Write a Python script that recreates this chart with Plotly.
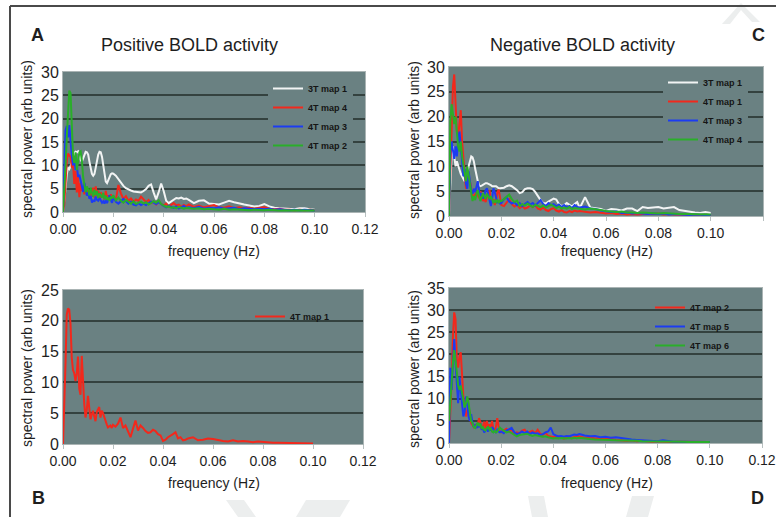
import numpy as np
import plotly.graph_objects as go

# frequency grid (Hz): 0-0.0195 step 0.0005, 0.020-0.049 step 0.001, 0.050-0.100 step 0.002
FREQ = np.round(np.concatenate([np.arange(40) * 0.0005,
                                0.020 + np.arange(30) * 0.001,
                                0.050 + np.arange(26) * 0.002]), 4)

# ---- Panel A: Positive BOLD activity ----
A_3T_MAP1 = [0, 2, 5, 8, 9.5, 9.2, 9.8, 10.8, 11.8, 12.6, 12.9, 12.8, 13, 12.4, 11.2, 10.8, 11.5, 12.5, 12.9, 12.8,
             12.3, 10.8, 9.2, 8.2, 7.8, 8.2, 9.5, 11, 12.3, 12.9, 12.8, 11.8, 9.8, 7.8, 6.5, 6.2, 6.8, 7.6, 8.1, 8.3,
             8.2, 7.8, 7, 6.2, 5.6, 5.1, 4.8, 4.6, 4.4, 4.3, 4.3, 4.2, 4.5, 4.9, 5.6, 5.9, 4.2, 2.7, 4.2, 6.1,
             4.5, 2.4, 1.9, 2.3, 2.8, 3, 2.9, 3.1, 2.8, 2.9,
             2.6, 1.9, 2.4, 2.5, 1.8, 1.7, 1.6, 2.0, 2.4, 2.1, 1.8, 1.6, 1.4, 1.2, 1.3, 1.7, 1.2, 0.9, 0.8, 0.7,
             0.6, 0.6, 0.8, 0.8, 0.6, 0.5]
A_4T_MAP4 = [0, 1.5, 6, 11, 12.5, 12, 11.8, 9.5, 10.2, 6, 8.8, 4.2, 7.5, 3.2, 6.2, 4.5, 5.5, 3.8, 5.2, 4,
             4.8, 3.5, 4.2, 3.3, 5.2, 3.1, 5.5, 3.4, 4.6, 2.8, 4.2, 3.3, 3.8, 2.7, 4.5, 2.9, 3.6, 2.5, 3.8, 2.8,
             3.2, 2.6, 5.8, 4, 2.8, 3.4, 2.4, 2.9, 2.2, 2.7, 2.4, 3.3, 2.6, 2.1, 2.6, 1.9, 2.2, 1.6, 2.3, 1.7,
             1.4, 1.8, 1.2, 1.5, 1.9, 1.4, 1.6, 1.1, 1.5, 1.2,
             1.6, 1.1, 1.4, 1.0, 1.3, 1.5, 1.0, 0.9, 1.2, 0.8, 1.0, 0.8, 0.9, 0.7, 0.9, 1.0, 0.7, 0.6, 0.7, 0.5,
             0.5, 0.4, 0.5, 0.4, 0.5, 0.4]
A_4T_MAP3 = [0, 10, 17.5, 18.4, 16, 18.6, 14.5, 12, 10, 11.5, 9, 10, 7.5, 8, 6.8, 5.5, 4.3, 6.2, 5, 3.5,
             4.2, 2.8, 3.5, 2, 2.6, 2.2, 3.3, 2.6, 2.4, 3, 2.5, 2, 2.3, 1.8, 2.6, 1.9, 2.8, 3.6, 2.5, 2,
             3.2, 2.2, 1.8, 2.4, 2.8, 2.3, 1.8, 2.2, 1.6, 1.4, 1.9, 1.5, 1.8, 1.5, 1.9, 2.2, 2.0, 1.7, 2.1, 1.6,
             1.3, 1.0, 1.3, 1.1, 0.9, 1.2, 0.8, 1.0, 1.3, 0.9,
             1.0, 0.8, 1.1, 0.7, 0.9, 0.8, 1.0, 0.7, 0.8, 0.9, 0.6, 0.8, 0.7, 0.6, 0.7, 0.6, 0.7, 0.5, 0.6, 0.5,
             0.4, 0.5, 0.4, 0.5, 0.4, 0.3]
A_4T_MAP2 = [0, 4, 10, 16, 23, 26, 25.5, 18, 12, 10.5, 12.8, 9, 11, 12.8, 13, 11, 7.5, 5.5, 4.2, 5.5,
             4.8, 3.5, 5.2, 4.2, 3.3, 4.8, 3.6, 4.5, 3, 4, 3.5, 3.1, 4.1, 2.8, 3.5, 2.6, 3.1, 2.4, 3.3, 2.9,
             3.6, 2.5, 3.1, 2.4, 2.0, 2.6, 2.2, 1.8, 2.3, 1.7, 2.0, 2.2, 1.8, 2.1, 1.6, 1.9, 2.3, 2.0, 2.5, 1.7,
             1.3, 1.1, 1.2, 0.9, 1.0, 0.8, 1.1, 0.9, 0.7, 0.9,
             0.8, 0.7, 0.8, 0.6, 0.7, 0.6, 0.5, 0.7, 0.5, 0.6, 0.5, 0.5, 0.4, 0.5, 0.4, 0.4, 0.5, 0.4, 0.3, 0.4,
             0.3, 0.4, 0.3, 0.3, 0.3, 0.3]

# ---- Panel B ----
B_4T_MAP1 = [0, 9, 13, 21, 22, 21.8, 19.5, 14, 12, 11.5, 10.2, 11.5, 14.2, 9, 8, 14.3, 9.5, 6.5, 4.3, 5.5,
             7.8, 6, 4, 4.8, 5.4, 4.5, 3.7, 5.2, 5.6, 6, 4.3, 5.4, 5, 4.3, 3.8, 3.2, 2.7, 2.8, 3, 2.6,
             3.1, 2.8, 3.3, 4.3, 2.6, 3.0, 2.0, 1.1, 2.5, 3.8, 2.2, 3.0, 2.6, 2.1, 1.8, 1.9, 2.3, 2.1, 1.6, 1.4,
             0.5, 0.7, 1.1, 1.3, 1.6, 1.9, 0.9, 1.1, 0.6, 0.7,
             0.9, 1.1, 0.6, 0.7, 0.9, 0.8, 0.6, 0.5, 0.4, 0.6, 0.4, 0.5, 0.4, 0.3, 0.4, 0.3, 0.3, 0.2, 0.2, 0.2,
             0.2, 0.1, 0.2, 0.1, 0.1, 0.1]

# ---- Panel C: Negative BOLD activity ----
C_3T_MAP1 = [0, 5, 12, 14, 12, 10, 11, 10, 9, 8.5, 8, 7.5, 7, 8, 9, 10.5, 11.5, 12, 11.8, 11,
             9.5, 8, 7, 6.2, 6, 6.1, 6.3, 6.5, 6.6, 6.6, 6.5, 6.3, 6.2, 6, 6, 6.1, 6, 5.8, 5.6, 5.6,
             5.6, 5.7, 6.0, 6.2, 6.0, 5.6, 5.2, 4.6, 4.8, 5.4, 5.6, 5.6, 5.4, 4.8, 3.9, 3.2, 2.6, 2.5, 2.9, 3.2,
             3.5, 3.3, 2.4, 2.0, 2.2, 2.6, 2.3, 1.9, 2.4, 2.8,
             1.6, 3.8, 1.7, 1.6, 1.4, 1.0, 1.4, 1.3, 1.1, 1.5, 1.5, 1.0, 1.8, 1.6, 1.7, 1.8, 1.5, 1.6, 1.8, 1.2,
             1.0, 0.8, 0.7, 0.6, 0.8, 0.6]
C_4T_MAP1 = [0, 8, 18, 26, 28.5, 24, 17, 16, 19, 21.3, 15, 11, 8.5, 5.5, 6.5, 8, 7, 5.2, 4.2, 3.8,
             4.4, 5, 4.2, 3.6, 5, 4, 3, 3.6, 2.8, 3.8, 4.6, 5.2, 3.2, 2.6, 3.4, 2.2, 3.2, 4.8, 5.3, 3.4,
             2.2, 2.0, 2.8, 3.4, 2.4, 1.9, 2.3, 1.6, 2.0, 1.5, 1.7, 2.1, 1.8, 2.2, 1.5, 1.3, 1.7, 1.2, 1.0, 1.4,
             1.6, 1.1, 0.9, 1.2, 0.8, 0.7, 1.0, 0.8, 1.1, 0.9,
             1.0, 0.9, 0.7, 0.8, 0.6, 0.5, 0.6, 0.4, 0.5, 0.3, 0.4, 0.3, 0.4, 0.5, 0.4, 0.5, 0.3, 0.4, 0.3, 0.3,
             0.3, 0.2, 0.2, 0.2, 0.2, 0.2]
C_4T_MAP3 = [0, 12.6, 15, 13, 11.5, 14, 12, 15.2, 17, 14, 10.2, 8, 9.5, 6.5, 5.5, 9, 7, 5, 4.5, 5.5,
             4.8, 6.2, 7, 5, 4, 4.6, 3.5, 4.2, 5.2, 5.6, 4.2, 3, 2, 3.6, 5.6, 4.8, 3.4, 2.6, 3.1, 2.5,
             2.6, 3.4, 3.8, 2.9, 2.5, 2.8, 2.2, 2.6, 2.0, 2.4, 2.8, 2.3, 2.6, 2.1, 2.7, 3.2, 2.4, 2.0, 2.6, 2.2,
             2.4, 1.9, 2.3, 1.8, 2.2, 1.7, 2.0, 1.6, 2.2, 1.8,
             1.7, 1.9, 1.5, 1.4, 1.1, 1.0, 0.8, 0.9, 0.6, 0.7, 0.5, 0.6, 0.5, 0.4, 0.5, 0.4, 0.5, 0.3, 0.4, 0.3,
             0.3, 0.2, 0.3, 0.2, 0.2, 0.2]
C_4T_MAP4 = [0, 19, 22.5, 20, 18.5, 20, 17, 14, 13, 15, 12, 10.5, 9, 7, 10, 8, 6, 4, 3, 4,
             3.2, 4.5, 5.2, 4, 3, 3.8, 4.6, 4, 3.4, 4.5, 3.8, 3.4, 4, 3.2, 2.6, 3.2, 2.8, 3.3, 2.6, 3.1,
             3.0, 3.4, 3.8, 4.3, 3.4, 2.8, 3.1, 2.0, 2.4, 2.1, 2.5, 2.2, 1.8, 2.3, 2.0, 1.8, 2.1, 1.7, 2.0, 2.3,
             2.0, 1.6, 1.9, 1.5, 1.7, 1.5, 1.8, 1.4, 1.6, 1.5,
             1.5, 1.3, 1.5, 1.4, 1.2, 1.0, 0.9, 0.8, 0.9, 0.7, 0.7, 0.6, 0.7, 0.6, 0.6, 0.5, 0.6, 0.5, 0.5, 0.4,
             0.4, 0.4, 0.3, 0.3, 0.3, 0.3]

# ---- Panel D ----
D_4T_MAP2 = [0, 6, 14, 24, 29.5, 28, 19, 17, 19.5, 20.5, 14, 10.5, 9, 6, 7, 8.5, 6, 4.5, 4, 3.6,
             4.2, 3.5, 4, 5.6, 4.8, 3.5, 3.8, 4.8, 3.2, 5, 3.6, 4.2, 3.4, 5, 3.2, 2.8, 3.6, 5.6, 3.8, 2.6,
             2.4, 2.8, 3.2, 2.6, 3.0, 2.0, 2.4, 2.2, 2.8, 3.0, 2.2, 2.5, 2.8, 2.2, 3.0, 2.1, 1.8, 2.3, 1.6, 1.5,
             1.3, 1.6, 1.2, 1.4, 1.0, 1.2, 1.5, 1.1, 1.4, 1.6,
             1.5, 1.2, 1.3, 1.0, 1.1, 0.9, 1.0, 0.7, 0.6, 0.5, 0.6, 0.4, 0.5, 0.4, 0.3, 0.4, 0.3, 0.3, 0.2, 0.3,
             0.3, 0.2, 0.2, 0.2, 0.2, 0.2]
D_4T_MAP5 = [0, 17, 12, 19, 23.5, 18, 12, 9, 15, 12, 8, 6, 7, 10.5, 9, 6, 5, 6.5, 4.5, 3.6,
             4, 3.4, 4, 3.6, 4.4, 3, 3.4, 2.4, 2.8, 3.2, 2.6, 3.4, 2.8, 3.6, 3.2, 2.6, 2.4, 3, 2.6, 2.4,
             2.6, 2.2, 2.8, 3.2, 3.4, 2.4, 2.0, 2.2, 2.6, 2.2, 2.6, 2.0, 2.4, 2.1, 2.2, 1.8, 2.0, 2.4, 2.6, 3.5,
             2.0, 1.7, 1.5, 1.6, 1.4, 1.6, 1.5, 1.7, 1.9, 1.8,
             2.0, 1.7, 1.5, 1.6, 1.3, 1.4, 1.2, 1.3, 1.1, 1.0, 0.8, 0.7, 0.6, 0.5, 0.5, 0.4, 0.6, 0.4, 0.3, 0.3,
             0.3, 0.3, 0.3, 0.2, 0.2, 0.2]
D_4T_MAP6 = [5, 10, 15, 18, 21, 19, 16, 13, 12, 13, 11, 9, 8, 9, 10.5, 9, 6.5, 5, 4.5, 3.6,
             3.4, 4, 4.6, 3.8, 4.4, 3.2, 3.6, 3, 2.8, 3.4, 3.6, 3, 3.4, 2.6, 2.4, 2.8, 2.4, 2.6, 3.2, 3.5,
             3.2, 2.8, 2.4, 2.6, 2.2, 1.8, 1.5, 1.8, 1.9, 2.0, 2.1, 1.8, 1.6, 1.8, 1.6, 1.5, 1.4, 1.5, 1.3, 1.2,
             1.0, 1.1, 1.0, 1.1, 1.0, 1.0, 1.1, 1.0, 1.2, 1.1,
             1.2, 1.0, 0.9, 0.8, 0.8, 0.7, 0.7, 0.6, 0.6, 0.5, 0.5, 0.5, 0.4, 0.4, 0.4, 0.4, 0.3, 0.3, 0.3, 0.3,
             0.3, 0.2, 0.2, 0.2, 0.2, 0.2]

X_TICKS = [0.00, 0.02, 0.04, 0.06, 0.08, 0.10, 0.12]

WHITE, RED, BLUE, GREEN = "#f2f4f4", "#f2281c", "#1c3cf2", "#2aae2a"
PLOT_BG = "#6a8182"
GRID = "#34423f"
TEXT = "#1e1e1e"
FONT = "Liberation Sans, Arial, sans-serif"

W, H = 776, 517

def px_x(p):
    return p / W

def px_y(p):
    return 1 - p / H

# panels: (axis id, left, right, top, bottom, ymax, legend id, series)
PANELS = [
    ("", 63, 365, 72, 212, 30, "legend", [("3T map 1", A_3T_MAP1, WHITE), ("4T map 4", A_4T_MAP4, RED),
                                           ("4T map 3", A_4T_MAP3, BLUE), ("4T map 2", A_4T_MAP2, GREEN)]),
    ("2", 449, 763, 67, 216, 30, "legend2", [("3T map 1", C_3T_MAP1, WHITE), ("4T map 1", C_4T_MAP1, RED),
                                             ("4T map 3", C_4T_MAP3, BLUE), ("4T map 4", C_4T_MAP4, GREEN)]),
    ("3", 63, 363, 290, 444, 25, "legend3", [("4T map 1", B_4T_MAP1, RED)]),
    ("4", 449, 762, 288, 443, 35, "legend4", [("4T map 2", D_4T_MAP2, RED), ("4T map 5", D_4T_MAP5, BLUE),
                                             ("4T map 6", D_4T_MAP6, GREEN)]),
]

fig = go.Figure()
layout = dict(width=W, height=H, margin=dict(l=0, r=0, t=0, b=0, autoexpand=False),
              paper_bgcolor="white", plot_bgcolor=PLOT_BG, showlegend=True)

legend_pos = {"legend": (268, 74, PLOT_BG), "legend2": (663, 68, PLOT_BG),
              "legend3": (250, 302, "rgba(0,0,0,0)"), "legend4": (650, 293, "rgba(0,0,0,0)")}

for ax, l, r, t, b, ymax, leg, series in PANELS:
    for name, vals, col in series:
        assert len(vals) == len(FREQ)
        fig.add_trace(go.Scatter(x=FREQ, y=vals, mode="lines", name=name,
                                 line=dict(color=col, width=2),
                                 xaxis="x" + ax, yaxis="y" + ax, legend=leg))
    layout["xaxis" + ax] = dict(domain=[px_x(l), px_x(r)], range=[0, 0.12], anchor="y" + ax,
                                tickvals=X_TICKS, tickformat=".2f", showgrid=False, zeroline=False,
                                automargin=False,
                                showline=True, linecolor="#aab4b4", linewidth=1, mirror=True,
                                ticks="outside", ticklen=4, tickcolor="#b8c0c0",
                                tickfont=dict(family=FONT, size=14, color=TEXT))
    layout["yaxis" + ax] = dict(domain=[px_y(b), px_y(t)], range=[0, ymax], anchor="x" + ax,
                                dtick=5, showgrid=True, gridcolor=GRID, gridwidth=2, zeroline=False,
                                automargin=False,
                                showline=True, linecolor="#aab4b4", linewidth=1, mirror=True,
                                ticks="", tickfont=dict(family=FONT, size=16, color=TEXT))
    lx, ly, lbg = legend_pos[leg]
    layout[leg] = dict(x=px_x(lx), y=px_y(ly), xanchor="left", yanchor="top", bgcolor=lbg,
                       borderwidth=0, itemwidth=30, tracegroupgap=0,
                       font=dict(family="Arial, Liberation Sans, sans-serif", size=9, color="#151515",
                                 weight="bold"))

annotations = []
def ann(text, x, y, size, angle=0, bold=False, family=FONT):
    annotations.append(dict(text=("<b>%s</b>" % text) if bold else text, x=px_x(x), y=px_y(y),
                            xref="paper", yref="paper", showarrow=False, textangle=angle,
                            xanchor="center", yanchor="middle",
                            font=dict(family=family, size=size, color=TEXT)))

ann("Positive BOLD activity", 189, 45, 18)
ann("Negative BOLD activity", 582, 45, 18)
ann("A", 37, 35, 18, bold=True)
ann("C", 758, 35, 18, bold=True)
ann("B", 38, 498, 18, bold=True)
ann("D", 757, 498, 18, bold=True)
for x, y in [(214, 251), (607, 251), (214, 483), (607, 483)]:
    ann("frequency (Hz)", x, y, 14)
for x, y in [(27, 139), (414, 140), (27, 368), (414, 369)]:
    ann("spectral power (arb units)", x, y, 14, angle=-90)
layout["annotations"] = annotations

# page frame and faint watermark chevrons
shapes = [
    dict(type="line", xref="paper", yref="paper", x0=px_x(10), x1=1, y0=px_y(6), y1=px_y(6),
         line=dict(color="#4a4a4a", width=2)),
    dict(type="line", xref="paper", yref="paper", x0=px_x(10), x1=px_x(10), y0=px_y(6), y1=0,
         line=dict(color="#4a4a4a", width=2)),
]
def poly(pts):
    path = "M " + " L ".join("%f,%f" % (px_x(a), px_y(b)) for a, b in pts) + " Z"
    return dict(type="path", xref="paper", yref="paper", path=path, fillcolor="#eceeee",
                line=dict(width=0), layer="below")
shapes += [poly([(722, 24), (741, 3), (760, 22), (752, 22), (741, 10), (730, 24)]),
           poly([(226, 500), (244, 500), (256, 517), (238, 517)]),
           poly([(306, 500), (350, 500), (340, 517), (296, 517)]),
           poly([(528, 496), (544, 496), (548, 517), (532, 517)]),
           poly([(632, 496), (654, 496), (648, 517), (626, 517)])]
layout["shapes"] = shapes

fig.update_layout(**layout)
fig.write_html("out.html", config={"displayModeBar": False},
               post_script="document.body.style.margin='0px';document.body.style.overflow='hidden';")
